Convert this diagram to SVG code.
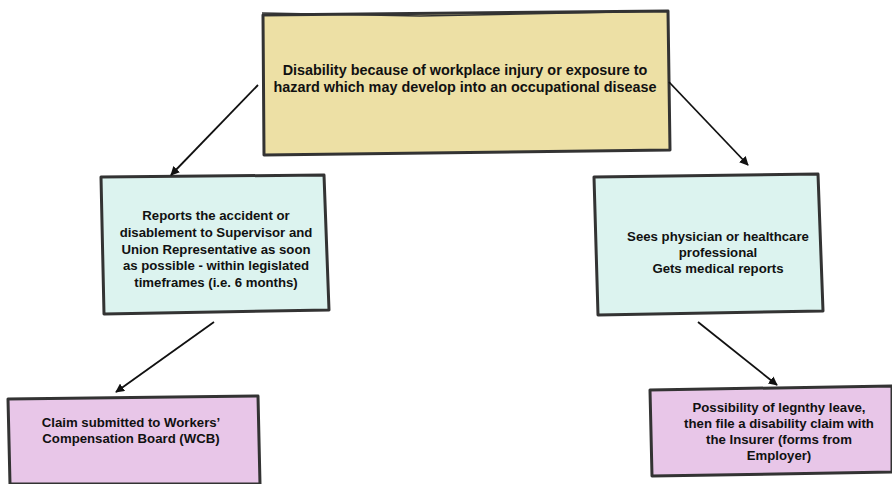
<svg xmlns="http://www.w3.org/2000/svg" width="892" height="484" viewBox="0 0 892 484">
<defs>
<marker id="ah" viewBox="0 0 10 10" refX="9" refY="5" markerWidth="5" markerHeight="5" orient="auto-start-reverse"><path d="M0,0 L10,5 L0,10 z" fill="#111"/></marker>
<style>
.box{stroke:#333;stroke-width:3;stroke-linejoin:round}
.y{fill:#ede0a5}.c{fill:#dcf3ef}.p{fill:#e8c6e8}
.t{font-family:"Liberation Sans",Arial,sans-serif;font-weight:bold;font-size:14.4px;fill:#111;text-anchor:middle}
.t2{font-size:13.2px}
.e{stroke:#111;stroke-width:1.8;fill:none}
</style>
</defs>
<rect width="892" height="484" fill="#fff"/>
<g id="n-top">
<path class="box y" d="M263,15 L668,11 L670,150 L264,155 Z"/>
<path d="M262,13 L420,16 L667,11" stroke="#333" stroke-width="1.5" fill="none"/>
<text class="t" x="465" y="75">Disability because of workplace injury or exposure to</text>
<text class="t" x="465" y="92">hazard which may develop into an occupational disease</text>
</g>
<g id="n-report">
<path class="box c" d="M101,177 L324,175 L329,310 L104,314 Z"/>
<text class="t t2" x="216" y="220">Reports the accident or</text>
<text class="t t2" x="216" y="237">disablement to Supervisor and</text>
<text class="t t2" x="216" y="254">Union Representative as soon</text>
<text class="t t2" x="216" y="270">as possible - within legislated</text>
<text class="t t2" x="216" y="287">timeframes (i.e. 6 months)</text>
</g>
<g id="n-physician">
<path class="box c" d="M594,177 L818,174 L823,311 L598,315 Z"/>
<text class="t t2" x="718" y="241">Sees physician or healthcare</text>
<text class="t t2" x="718" y="257">professional</text>
<text class="t t2" x="718" y="273">Gets medical reports</text>
</g>
<g id="n-wcb">
<path class="box p" d="M8,399 L258,396 L260,484 L10,484 Z"/>
<text class="t t2" x="131" y="427">Claim submitted to Workers’</text>
<text class="t t2" x="131" y="443">Compensation Board (WCB)</text>
</g>
<g id="n-insurer">
<path class="box p" d="M650,390 L892,386 L892,472 L652,476 Z"/>
<text class="t t2" x="779" y="412">Possibility of legnthy leave,</text>
<text class="t t2" x="779" y="428">then file a disability claim with</text>
<text class="t t2" x="779" y="444">the Insurer (forms from</text>
<text class="t t2" x="779" y="460">Employer)</text>
</g>
<g id="connectors">
<path class="e" d="M258,85 L171,175" marker-end="url(#ah)"/>
<path class="e" d="M669,82 L748,165" marker-end="url(#ah)"/>
<path class="e" d="M214,322 L116,392" marker-end="url(#ah)"/>
<path class="e" d="M698,322 L777,385" marker-end="url(#ah)"/>
</g>
</svg>
